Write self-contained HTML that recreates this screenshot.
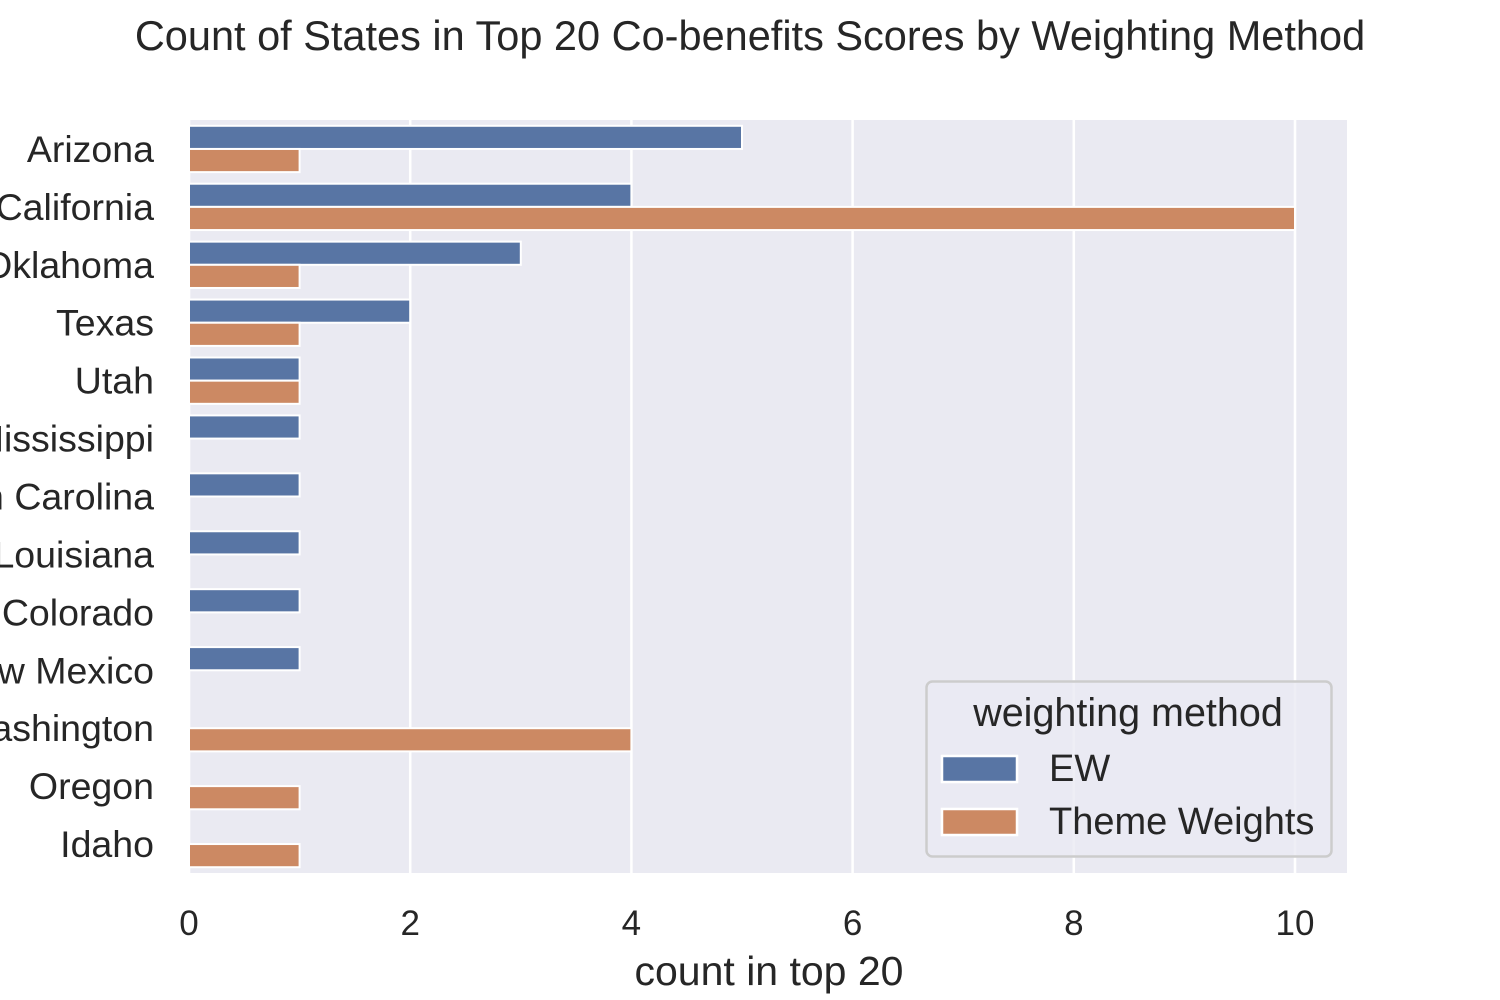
<!DOCTYPE html>
<html><head><meta charset="utf-8"><style>
html,body{margin:0;padding:0;background:#fff;}
svg{display:block;font-family:"Liberation Sans","DejaVu Sans",sans-serif;}
</style></head><body>
<svg id="chart" width="1500" height="1000" viewBox="0 0 1500 1000">
<text x="750" y="50" text-anchor="middle" font-size="41.5" fill="#262626">Count of States in Top 20 Co-benefits Scores by Weighting Method</text>
<rect x="189" y="120" width="1158" height="753" fill="#eaeaf2"/>
<g id="grid"></g>
<g id="bars"></g>
<g id="ylabels"></g>
<g id="xticks"></g>
<text x="769" y="985" text-anchor="middle" font-size="41" fill="#262626">count in top 20</text>
<g>
<rect x="926.5" y="681.5" width="405" height="175" rx="6" fill="#eaeaf2" fill-opacity="0.8" stroke="#cccccc" stroke-width="2.5"/>
<text x="1128" y="726" text-anchor="middle" font-size="39.5" fill="#262626">weighting method</text>
<rect x="942" y="756" width="75" height="26" fill="#5875a4" stroke="#fff" stroke-width="2.5"/>
<text x="1049" y="781" font-size="38" fill="#262626">EW</text>
<rect x="942" y="809" width="75" height="26" fill="#cc8963" stroke="#fff" stroke-width="2.5"/>
<text x="1049" y="834" font-size="38" fill="#262626">Theme Weights</text>
</g>
</svg>
<script>
const categories = ["Arizona","California","Oklahoma","Texas","Utah","Mississippi","North Carolina","Louisiana","Colorado","New Mexico","Washington","Oregon","Idaho"];
const ewValues = [5,4,3,2,1,1,1,1,1,1,0,0,0];
const themeValues = [1,10,1,1,1,0,0,0,0,0,4,1,1];
const xTicks = [0,2,4,6,8,10];
const NS="http://www.w3.org/2000/svg";
const L=189,T=120,B=873,pxPerUnit=110.6;
const xs=v=>L+pxPerUnit*v;
const band=(B-T)/categories.length;
const yc=i=>T+band*(i+0.5);
function mk(tag,attrs,parent){const e=document.createElementNS(NS,tag);for(const k in attrs)e.setAttribute(k,attrs[k]);document.getElementById(parent).appendChild(e);return e;}
xTicks.forEach(t=>{
  const g=mk('line',{x1:xs(t),x2:xs(t),y1:T,y2:B,stroke:'#fff','stroke-width':2.5},'grid');
  
  
  const lb=mk('text',{x:xs(t),y:935,'text-anchor':'middle','font-size':35,fill:'#262626'},'xticks');
  lb.textContent=t;
  
  
});
const bh=band*0.4;
categories.forEach((c,i)=>{
  const y=yc(i);
  if(ewValues[i]>0){
    const r=mk('rect',{x:xs(0),y:y-bh,width:xs(ewValues[i])-xs(0),height:bh,fill:'#5875a4',stroke:'#fff','stroke-width':2},'bars');
    
    
  }
  if(themeValues[i]>0){
    const r=mk('rect',{x:xs(0),y:y,width:xs(themeValues[i])-xs(0),height:bh,fill:'#cc8963',stroke:'#fff','stroke-width':2},'bars');
    
    
  }
  const t=mk('text',{x:154,y:y+13,'text-anchor':'end','font-size':37.5,fill:'#262626'},'ylabels');
  t.textContent=c;
  
  
});
</script>
</body></html>
